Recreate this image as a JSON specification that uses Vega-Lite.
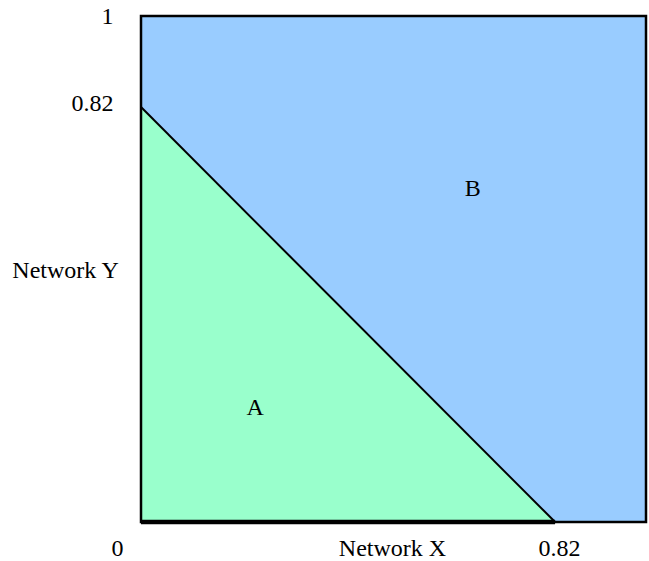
{
  "$schema": "https://vega.github.io/schema/vega-lite/v6.json",
  "width": 505,
  "height": 506,
  "autosize": {"type": "none"},
  "padding": {"left": 141, "top": 16, "right": 3, "bottom": 39},
  "background": "white",
  "config": {
    "view": {"stroke": null},
    "font": "Liberation Serif",
    "axis": {"grid": false, "domain": false, "ticks": false, "labelFont": "Liberation Serif", "titleFont": "Liberation Serif", "labelFontSize": 24, "titleFontSize": 24, "labelColor": "black", "titleColor": "black", "titleFontWeight": "normal"}
  },
  "datasets": {
    "box": [{"x0": 0, "x1": 1, "y0": 0, "y1": 1}],
    "tri": [{"x": 0, "y": 0.82}, {"x": 0.82, "y": 0}],
    "base": [{"x0": 0, "x1": 0.82, "y0": 0}],
    "labels": [{"label": "A", "x": 0.226, "y": 0.225}, {"label": "B", "x": 0.657, "y": 0.658}]
  },
  "layer": [
    {
      "data": {"name": "box"},
      "mark": {"type": "rect", "fill": "#99CCFF"},
      "encoding": {
        "x": {"field": "x0", "type": "quantitative", "scale": {"domain": [0, 1], "nice": false, "zero": true},
          "axis": {"orient": "bottom", "values": [0, 0.82], "format": ".2~f", "labelBaseline": "middle", "labelPadding": 26,
            "labelOffset": {"condition": {"test": "datum.value == 0", "value": -30}, "value": 4},
            "title": "Network X", "titleX": 251, "titleY": 26, "titleAlign": "center", "titleBaseline": "middle", "titleAnchor": null}},
        "x2": {"field": "x1"},
        "y": {"field": "y0", "type": "quantitative", "scale": {"domain": [0, 1], "nice": false, "zero": true},
          "axis": {"orient": "left", "values": [0.82, 1], "format": ".2~f", "labelBaseline": "middle", "labelPadding": 28,
            "labelOffset": {"condition": {"test": "datum.value == 1", "value": 0}, "value": -4},
            "title": "Network Y", "titleAngle": 0, "titleX": -76, "titleY": 254, "titleAlign": "center", "titleBaseline": "middle", "titleAnchor": null}},
        "y2": {"field": "y1"}
      }
    },
    {
      "data": {"name": "tri"},
      "mark": {"type": "area", "fill": "#99FFCC", "opacity": 1},
      "encoding": {
        "x": {"field": "x", "type": "quantitative"},
        "y": {"field": "y", "type": "quantitative"}
      }
    },
    {
      "data": {"name": "tri"},
      "mark": {"type": "line", "color": "black", "strokeWidth": 2},
      "encoding": {
        "x": {"field": "x", "type": "quantitative"},
        "y": {"field": "y", "type": "quantitative"}
      }
    },
    {
      "data": {"name": "base"},
      "mark": {"type": "rule", "color": "black", "strokeWidth": 4.5},
      "encoding": {
        "x": {"field": "x0", "type": "quantitative"},
        "x2": {"field": "x1"},
        "y": {"field": "y0", "type": "quantitative"}
      }
    },
    {
      "data": {"name": "box"},
      "mark": {"type": "rect", "fill": null, "fillOpacity": 0, "stroke": "black", "strokeWidth": 2.5},
      "encoding": {
        "x": {"field": "x0", "type": "quantitative"},
        "x2": {"field": "x1"},
        "y": {"field": "y0", "type": "quantitative"},
        "y2": {"field": "y1"}
      }
    },
    {
      "data": {"name": "labels"},
      "mark": {"type": "text", "font": "Liberation Serif", "fontSize": 24, "color": "black", "baseline": "middle", "align": "center"},
      "encoding": {
        "x": {"field": "x", "type": "quantitative"},
        "y": {"field": "y", "type": "quantitative"},
        "text": {"field": "label"}
      }
    }
  ]
}
